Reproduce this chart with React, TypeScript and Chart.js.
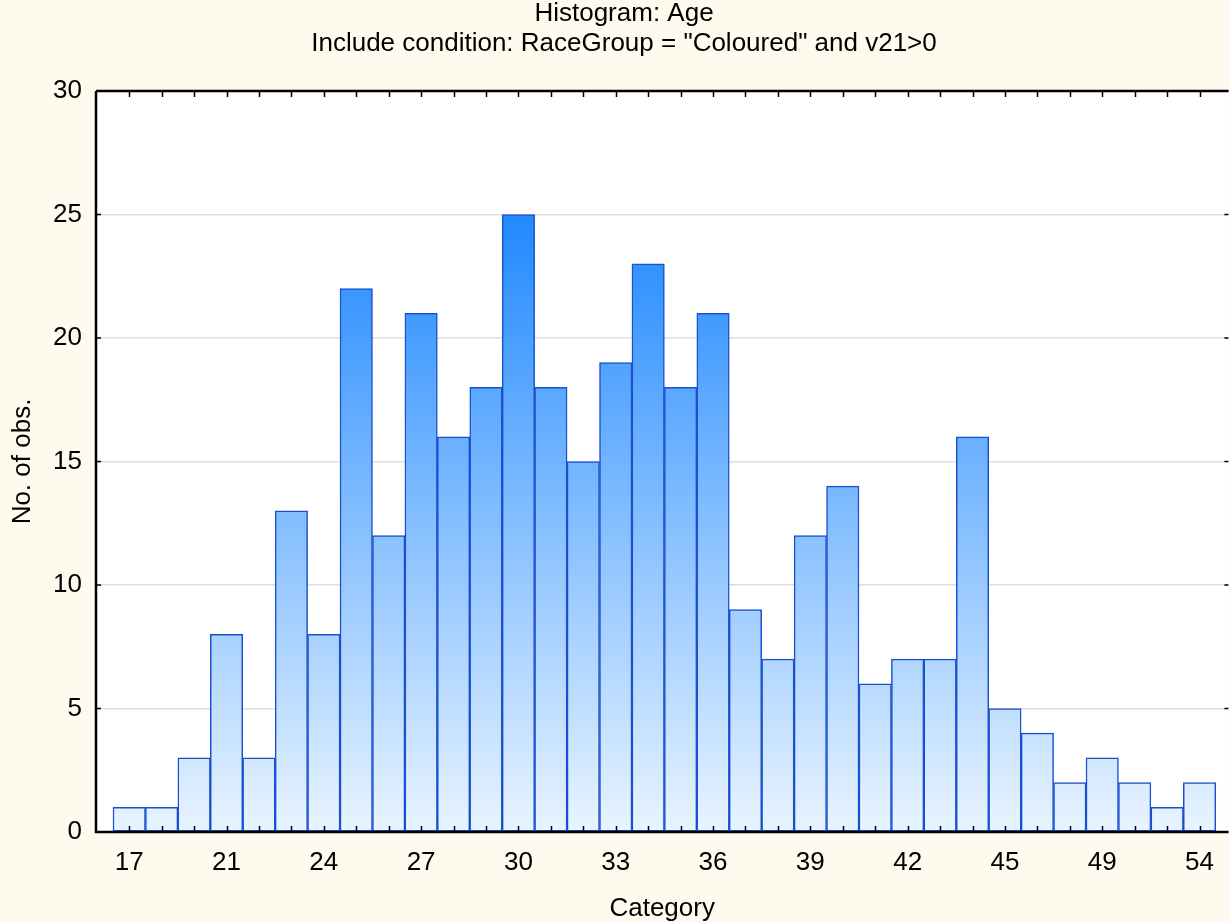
import React, { useEffect, useRef } from "react";
import { Chart, registerables } from "chart.js";

Chart.register(...registerables);

const titleText = "Histogram: Age";
const subtitleText = 'Include condition: RaceGroup = "Coloured" and v21>0';
const xAxisTitle = "Category";
const yAxisTitle = "No. of obs.";

// one count per bar (34 bins)
const counts = [1, 1, 3, 8, 3, 13, 8, 22, 12, 21, 16, 18, 25, 18, 15, 19, 23, 18, 21, 9, 7, 12, 14, 6, 7, 7, 16, 5, 4, 2, 3, 2, 1, 2];
// labelled bins (bar index) and their labels
const xTickIndex = [0, 3, 6, 9, 12, 15, 18, 21, 24, 27, 30, 33];
const xTickLabels = ["17", "21", "24", "27", "30", "33", "36", "39", "42", "45", "49", "54"];
const yTicks = [0, 5, 10, 15, 20, 25, 30];

const FONT = "'Liberation Sans', Arial, sans-serif";

const framePlugin = {
  id: "frame",
  beforeDraw(chart: any) {
    const { ctx, chartArea: a } = chart;
    ctx.save();
    ctx.fillStyle = "#ffffff";
    ctx.fillRect(a.left, a.top, a.right - a.left, a.bottom - a.top);
    ctx.restore();
  },
  afterDatasetsDraw(chart: any) {
    const { ctx, chartArea: a, scales } = chart;
    const xs = scales.x;
    const ys = scales.y;
    ctx.save();
    ctx.strokeStyle = "#000000";
    ctx.lineWidth = 1.5;
    ctx.beginPath();
    for (let i = 0; i < counts.length; i++) {
      const x = Math.round(xs.getPixelForValue(i)) + 0.5;
      ctx.moveTo(x, a.bottom);
      ctx.lineTo(x, a.bottom - 6);
      ctx.moveTo(x, a.top);
      ctx.lineTo(x, a.top + 6);
    }
    for (const v of yTicks) {
      const y = ys.getPixelForValue(v);
      ctx.moveTo(a.left, y);
      ctx.lineTo(a.left + 5, y);
      ctx.moveTo(a.right - 4, y);
      ctx.lineTo(a.right, y);
    }
    ctx.stroke();
    ctx.lineWidth = 2.5;
    ctx.beginPath();
    ctx.moveTo(a.left, a.top);
    ctx.lineTo(a.right, a.top);
    ctx.moveTo(a.left, a.top);
    ctx.lineTo(a.left, a.bottom);
    ctx.lineTo(a.right, a.bottom);
    ctx.stroke();

    // titles
    ctx.fillStyle = "#000";
    ctx.textAlign = "center";
    ctx.textBaseline = "middle";
    ctx.font = `26px ${FONT}`;
    ctx.fillText(titleText, 624, 14);
    ctx.fillText(subtitleText, 624, 44);
    ctx.restore();
  },
};

export default function App() {
  const ref = useRef<HTMLCanvasElement | null>(null);
  useEffect(() => {
    if (!ref.current) return;
    const chart = new Chart(ref.current, {
      type: "bar",
      data: {
        datasets: [
          {
            data: counts.map((v, i) => ({ x: i, y: v })),
            backgroundColor: (c: any) => {
              const ch = c.chart;
              const ys = ch.scales && ch.scales.y;
              if (!ch.chartArea || !ys) return "#8ec3ff";
              const g = ch.ctx.createLinearGradient(0, ys.getPixelForValue(0), 0, ys.getPixelForValue(25));
              g.addColorStop(0, "#e9f4ff");
              g.addColorStop(1, "#2189ff");
              return g;
            },
            borderColor: "#1a50d0",
            borderWidth: 1.5,
            borderSkipped: false,
            barPercentage: 1,
            categoryPercentage: 1,
          },
        ],
      },
      options: {
        animation: false,
        responsive: false,
        devicePixelRatio: 1,
        layout: { padding: { top: 91, left: 0, right: 0, bottom: 0 } },
        plugins: {
          legend: { display: false },
          tooltip: { enabled: false },
          title: { display: false },
        },
        scales: {
          x: {
            type: "linear",
            offset: false,
            min: -1.024,
            max: 33.89,
            grid: { display: false, drawTicks: false },
            border: { display: false },
            afterBuildTicks: (s: any) => {
              s.ticks = xTickIndex.map((v) => ({ value: v }));
            },
            afterFit: (s: any) => {
              s.height = 90;
            },
            ticks: {
              autoSkip: false,
              maxRotation: 0,
              color: "#000",
              padding: 15,
              font: { family: FONT, size: 26 },
              callback: (v: any) => {
                const k = xTickIndex.indexOf(Math.round(Number(v)));
                return k >= 0 ? xTickLabels[k] : "";
              },
            },
            title: {
              display: true,
              text: xAxisTitle,
              color: "#000",
              font: { family: FONT, size: 26, lineHeight: 1 },
              padding: { top: 0, bottom: 0 },
            },
          },
          y: {
            min: 0,
            max: 30,
            grid: { color: "#dedede", lineWidth: 1.5, drawTicks: false },
            border: { display: false },
            afterFit: (s: any) => {
              s.width = 96;
            },
            ticks: {
              stepSize: 5,
              color: "#000",
              padding: 14,
              font: { family: FONT, size: 26 },
            },
            title: {
              display: true,
              text: yAxisTitle,
              color: "#000",
              font: { family: FONT, size: 26, lineHeight: 1 },
              padding: { top: 10, bottom: 0 },
            },
          },
        },
      },
      plugins: [framePlugin],
    });
    return () => chart.destroy();
  }, []);
  return (
    <div
      style={{
        position: "fixed",
        left: 0,
        top: 0,
        width: 1229,
        height: 922,
        background: "#fffaee",
        overflow: "hidden",
      }}
    >
      <canvas ref={ref} width={1229} height={922} style={{ width: 1229, height: 922, display: "block" }} />
    </div>
  );
}
